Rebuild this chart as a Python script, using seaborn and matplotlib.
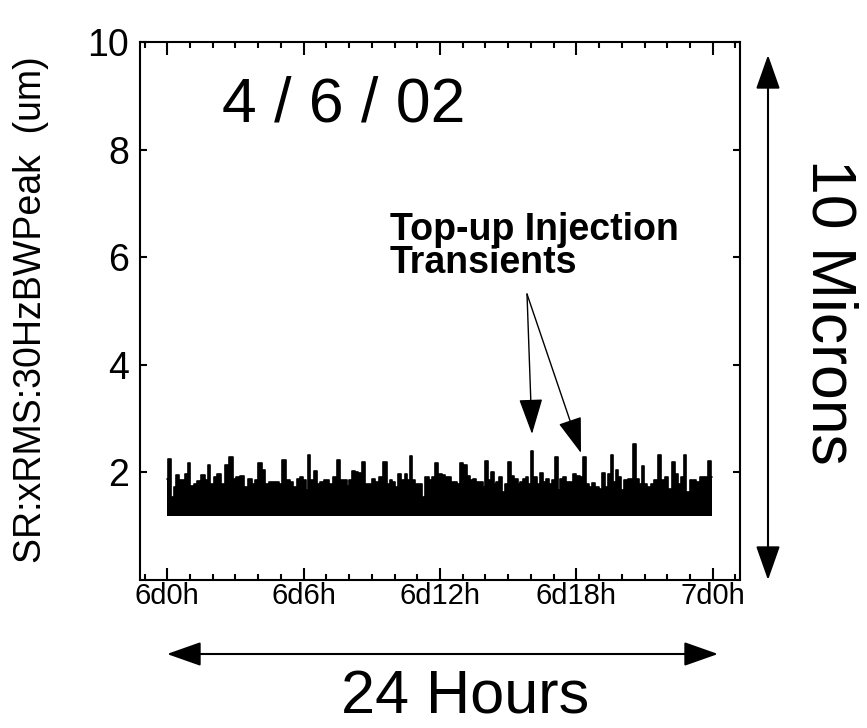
import matplotlib
matplotlib.use("Agg")
import matplotlib.pyplot as plt
from matplotlib.patches import FancyArrowPatch
from matplotlib.ticker import MultipleLocator, FixedLocator
import seaborn as sns

# hours after 6d0h, upper envelope of the orbit-motion trace (um)
HOURS = [
    0.00, 0.09, 0.23, 0.35, 0.45, 0.57, 0.69, 0.83, 0.95, 1.08, 1.23, 1.42, 1.57, 1.71,
    1.83, 1.96, 2.11, 2.30, 2.44, 2.62, 2.80, 2.94, 3.13, 3.28, 3.47, 3.65, 3.79, 3.91,
    4.09, 4.23, 4.38, 4.60, 4.82, 4.99, 5.14, 5.29, 5.48, 5.62, 5.77, 5.92, 6.06,
    6.11, 6.24, 6.36, 6.51, 6.65, 6.80, 7.02, 7.24, 7.38, 7.53, 7.68, 7.82, 7.97, 8.04,
    8.22, 8.34, 8.48, 8.63, 8.78, 8.92, 9.07, 9.25, 9.36, 9.58, 9.73, 9.83, 9.98, 10.10,
    10.21, 10.39, 10.51, 10.61, 10.71, 10.83, 10.97, 11.12, 11.27, 11.44, 11.59, 11.71,
    11.85, 12.00,
    12.15, 12.29, 12.41, 12.56, 12.70, 12.81, 12.95, 13.10, 13.25, 13.39, 13.49, 13.64,
    13.83, 13.93, 14.05, 14.20, 14.31, 14.42, 14.52, 14.64, 14.78, 14.90, 15.05, 15.19,
    15.34, 15.49, 15.59, 15.69, 15.84, 15.93, 16.04, 16.18, 16.32, 16.47, 16.62, 16.72,
    16.86, 16.98, 17.10, 17.25, 17.35, 17.49, 17.64, 17.79, 17.93, 18.08,
    18.22, 18.37, 18.47, 18.62, 18.77, 18.91, 19.06, 19.18, 19.32, 19.47, 19.57, 19.69,
    19.79, 19.91, 20.03, 20.20, 20.38, 20.57, 20.71, 20.82, 20.93, 21.05, 21.20, 21.34,
    21.49, 21.67, 21.81, 21.96, 22.11, 22.28, 22.43, 22.55, 22.66, 22.78, 22.91, 23.06,
    23.20, 23.35, 23.57, 23.75, 23.86, 23.98,
]
PEAK = [
    1.88, 2.25, 1.54, 1.72, 1.94, 1.86, 1.85, 1.97, 2.17, 1.75, 1.78, 1.84, 1.94, 1.86,
    2.13, 1.78, 1.91, 1.97, 1.77, 2.14, 2.28, 1.88, 1.91, 1.92, 1.72, 1.88, 1.78, 1.85,
    2.17, 2.04, 1.78, 1.81, 1.81, 1.77, 2.23, 1.86, 1.81, 1.72, 1.88, 1.90, 1.85,
    1.66, 2.31, 1.85, 2.02, 1.78, 1.81, 1.86, 1.78, 1.90, 2.23, 1.85, 1.86, 1.75, 1.86,
    2.02, 2.00, 1.98, 2.19, 1.78, 1.78, 1.88, 1.81, 1.90, 2.19, 1.78, 1.86, 1.81, 1.72,
    1.97, 1.85, 1.97, 1.86, 2.29, 1.85, 1.77, 1.78, 1.54, 1.91, 1.86, 1.90,
    2.17, 1.97,
    1.94, 1.90, 1.91, 1.81, 1.81, 1.78, 2.17, 2.14, 1.92, 1.86, 1.88, 1.81,
    1.81, 1.72, 2.21, 1.85, 2.00, 1.78, 1.81, 1.90, 1.63, 1.78, 2.19, 1.92,
    1.88, 1.78, 1.81, 1.88, 1.90, 1.78, 2.39, 1.90, 1.78, 1.98, 1.81, 1.88,
    1.78, 1.85, 2.28, 1.67, 1.88, 1.91, 1.81, 1.81, 1.96, 1.92,
    1.91, 2.28, 1.78, 1.72, 1.80, 1.73, 1.69, 1.98, 1.72, 1.97, 2.31, 1.81,
    2.04, 1.91, 1.66, 1.85, 1.88, 2.53, 1.88, 1.78, 2.11, 1.78, 1.72, 1.77,
    1.85, 2.31, 1.85, 1.90, 1.69, 2.19, 1.97, 1.78, 1.91, 2.31, 1.63, 1.86,
    1.85, 1.81, 1.90, 1.90, 2.21, 1.91,
]
BASE = 1.19  # lower edge of the band

X_TICKS = [0, 6, 12, 18, 24]
X_LABELS = ["6d0h", "6d6h", "6d12h", "6d18h", "7d0h"]
Y_TICKS = [2, 4, 6, 8, 10]

sns.set_style("ticks")
plt.rcParams["font.family"] = ["Liberation Sans", "DejaVu Sans"]
for k in ["text.color", "axes.labelcolor", "xtick.color", "ytick.color", "axes.edgecolor"]:
    plt.rcParams[k] = "black"

W, H = 867, 728
fig = plt.figure(figsize=(W / 100, H / 100), dpi=100)
ax = fig.add_axes([140 / W, 1 - 579.6 / H, 600 / W, 537.6 / H])


def px(x, y):
    return (x / W, 1 - y / H)


ax.fill_between(HOURS, BASE, PEAK, step="mid", color="black", lw=0)
sns.lineplot(x=HOURS, y=PEAK, ax=ax, color="black", lw=1.2, sort=False,
             drawstyle="steps-mid")

ax.set_xlim(-1.2, 25.2)
ax.set_ylim(0, 10)
ax.xaxis.set_major_locator(FixedLocator(X_TICKS))
ax.xaxis.set_minor_locator(MultipleLocator(1))
ax.set_xticklabels(X_LABELS, family=["Liberation Sans Narrow", "Liberation Sans"], fontsize=21)
ax.yaxis.set_major_locator(FixedLocator(Y_TICKS))
ax.set_yticklabels([str(v) for v in Y_TICKS], fontsize=27)
ax.tick_params(axis="x", which="major", direction="in", top=True, length=9, width=1.5, pad=2)
ax.tick_params(axis="x", which="minor", direction="in", top=True, length=4.5, width=1.5)
ax.tick_params(axis="y", which="major", direction="in", right=True, length=5, width=1.5, pad=8)
for s in ax.spines.values():
    s.set_linewidth(1.5)
ax.set_xlabel("")
ax.set_ylabel("")

fig.text(*px(31, 310), "SR:xRMS:30HzBWPeak  (um)", rotation=90, ha="center", va="center",
         fontsize=27)

fig.text(*px(390, 212), "Top-up Injection\nTransients", fontsize=27, fontweight="bold",
         va="top", ha="left", linespacing=0.9)

fig.text(*px(222, 122), "4 / 6 / 02", fontsize=45, ha="left", va="baseline")

arr = dict(arrowstyle="-|>,head_length=0.9,head_width=0.3", color="black", lw=1.0,
           mutation_scale=25, shrinkA=0, shrinkB=0, transform=fig.transFigure)
for tip in [(532, 434), (581, 453)]:
    fig.add_artist(FancyArrowPatch(px(527, 294), px(*tip), **arr))

dbl = dict(arrowstyle="<|-|>,head_length=0.85,head_width=0.3", color="black", lw=1.5,
           mutation_scale=25, shrinkA=0, shrinkB=0, transform=fig.transFigure)
fig.add_artist(FancyArrowPatch(px(167, 654), px(718, 654), **dbl))
fig.add_artist(FancyArrowPatch(px(768, 55), px(768, 580), **dbl))

fig.text(*px(465, 727), "24 Hours", fontsize=44, ha="center", va="bottom")
fig.text(*px(829, 312), "10 Microns", fontsize=45, ha="center", va="center", rotation=-90)

fig.savefig("out.png", dpi=100)
